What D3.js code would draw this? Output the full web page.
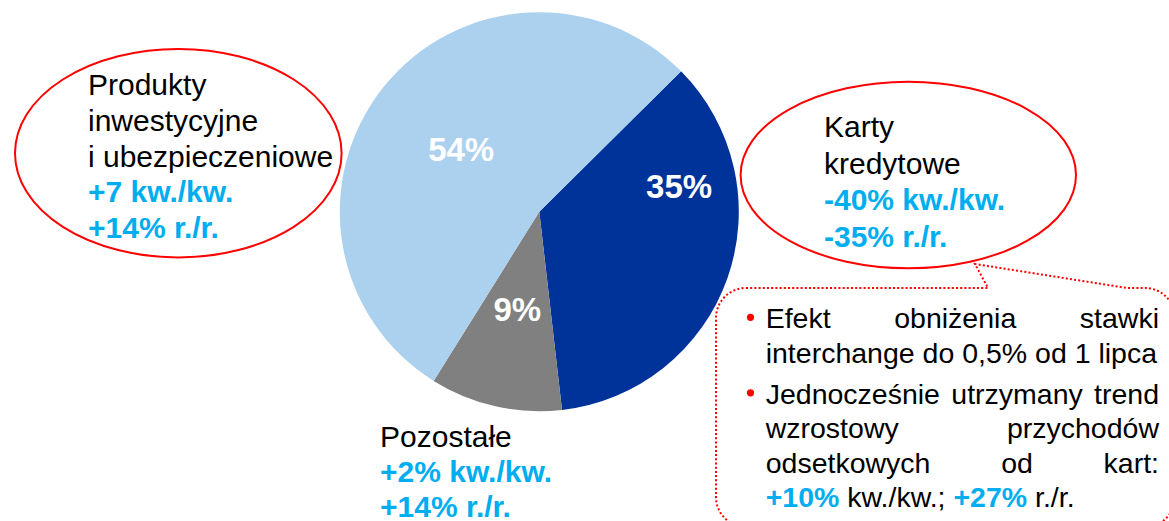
<!DOCTYPE html>
<html>
<head>
<meta charset="utf-8">
<script src="https://cdn.jsdelivr.net/npm/d3@7"></script>
<style>
  html, body { margin: 0; padding: 0; background: #ffffff; }
  svg { display: block; font-family: "Liberation Sans", Arial, sans-serif; }
</style>
</head>
<body>
<svg id="chart" width="1169" height="521"></svg>
<script>
// ---------------- data ----------------
const sliceNames  = ["Karty kredytowe", "Pozostałe", "Produkty inwestycyjne i ubezpieczeniowe"];
const sliceShares = [35.6, 10.7, 53.7];
const sliceLabels = ["35%", "9%", "54%"];

const invNameLines   = ["Produkty", "inwestycyjne", "i ubezpieczeniowe"];
const invChangeLines = ["+7 kw./kw.", "+14% r./r."];

const cardNameLines   = ["Karty", "kredytowe"];
const cardChangeLines = ["-40% kw./kw.", "-35% r./r."];

const otherNameLines   = ["Pozostałe"];
const otherChangeLines = ["+2% kw./kw.", "+14% r./r."];

const bullet1Lines = [
  [{t: "Efekt obniżenia stawki"}],
  [{t: "interchange do 0,5% od 1 lipca"}]
];
const bullet2Lines = [
  [{t: "Jednocześnie utrzymany trend"}],
  [{t: "wzrostowy przychodów"}],
  [{t: "odsetkowych od kart:"}],
  [{t: "+10%", b: true}, {t: " kw./kw.; "}, {t: "+27%", b: true}, {t: " r./r."}]
];

// ---------------- styles ----------------
const sliceColors = ["#003399", "#808080", "#abd1ef"];
const BLUE = "#00aeef";
const RED = "#ff0000";

const svg = d3.select("#chart");

// ---------------- pie ----------------
const cx = 539.3, cy = 211.7, R = 199.5;
const start = 45.3 * Math.PI / 180;
const pie = d3.pie().sort(null).value(d => d)
  .startAngle(start).endAngle(start + 2 * Math.PI);
const arcs = pie(sliceShares);
const arc = d3.arc().innerRadius(0).outerRadius(R);
const labelArc = d3.arc().innerRadius(100).outerRadius(100);

const g = svg.append("g").attr("transform", `translate(${cx},${cy})`);
g.selectAll("path.slice").data(arcs).join("path")
  .attr("class", "slice")
  .attr("d", arc)
  .attr("fill", (d, i) => sliceColors[i]);

const pctSize = 33;
g.selectAll("text.pct").data(arcs).join("text")
  .attr("class", "pct")
  .attr("text-anchor", "middle")
  .attr("font-weight", "bold")
  .attr("font-size", pctSize)
  .attr("fill", "#ffffff")
  .attr("transform", (d, i) => {
    let p;
    if (i === 0) {
      const a = 79.8 * Math.PI / 180, rr = 142;
      p = [rr * Math.sin(a), -rr * Math.cos(a)];
    } else {
      p = labelArc.centroid(d);
    }
    return `translate(${p[0]},${p[1] + pctSize * 0.358})`;
  })
  .text((d, i) => sliceLabels[i]);

// ---------------- ellipses ----------------
svg.append("ellipse").attr("cx", 178.3).attr("cy", 153.2).attr("rx", 163.3).attr("ry", 104.2)
  .attr("fill", "none").attr("stroke", RED).attr("stroke-width", 2);
svg.append("ellipse").attr("cx", 908.3).attr("cy", 175).attr("rx", 167.7).attr("ry", 93.3)
  .attr("fill", "none").attr("stroke", RED).attr("stroke-width", 2);

function block(x, y0, step, nameLines, changeLines, size) {
  const t = svg.append("g").attr("font-size", size);
  nameLines.forEach((s, i) => {
    t.append("text").attr("x", x).attr("y", y0 + i * step).attr("fill", "#000").text(s);
  });
  changeLines.forEach((s, i) => {
    t.append("text").attr("x", x).attr("y", y0 + (nameLines.length + i) * step)
      .attr("fill", BLUE).attr("font-weight", "bold").text(s);
  });
}
block(88, 95, 35.8, invNameLines, invChangeLines, 30);
block(824, 137.3, 36.4, cardNameLines, cardChangeLines, 30);
block(380, 446.5, 35.2, otherNameLines, otherChangeLines, 30);

// ---------------- callout box ----------------
const callout = d3.path();
callout.moveTo(746, 288);
callout.lineTo(988, 288);
callout.lineTo(975, 264);
callout.lineTo(1127, 288);
callout.lineTo(1145, 288);
callout.arcTo(1175, 288, 1175, 318, 30);
callout.lineTo(1175, 497);
callout.arcTo(1175, 527, 1145, 527, 30);
callout.lineTo(746, 527);
callout.arcTo(716, 527, 716, 497, 30);
callout.lineTo(716, 318);
callout.arcTo(716, 288, 746, 288, 30);
callout.closePath();
svg.append("path").attr("d", callout.toString())
  .attr("fill", "none").attr("stroke", RED).attr("stroke-width", 2)
  .attr("stroke-dasharray", "2,2.2");

// ---------------- bullets ----------------
const bx0 = 765.7, bx1 = 1159, bSize = 28.5;
const bulletG = svg.append("g").attr("font-size", bSize);

function measure(str, bold) {
  const t = bulletG.append("text").attr("font-weight", bold ? "bold" : null).text(str);
  const w = t.node().getComputedTextLength();
  t.remove();
  return w;
}

function drawLine(segs, y, justify) {
  if (justify) {
    const words = segs.map(s => s.t).join("").split(" ");
    const widths = words.map(w => measure(w, false));
    const total = d3.sum(widths);
    const gap = (bx1 - bx0 - total) / (words.length - 1);
    let x = bx0;
    words.forEach((w, i) => {
      bulletG.append("text").attr("x", x).attr("y", y).attr("fill", "#000").text(w);
      x += widths[i] + gap;
    });
  } else {
    const t = bulletG.append("text").attr("x", bx0).attr("y", y).attr("xml:space", "preserve");
    segs.forEach(s => {
      t.append("tspan")
        .attr("fill", s.b ? BLUE : "#000")
        .attr("font-weight", s.b ? "bold" : null)
        .text(s.t);
    });
  }
}

const lineStep = 34.4;
const b1y = 328.3;
bullet1Lines.forEach((l, i) => drawLine(l, b1y + i * lineStep, i < bullet1Lines.length - 1));
const b2y = 403.8;
bullet2Lines.forEach((l, i) => drawLine(l, b2y + i * lineStep, i < bullet2Lines.length - 1));

[b1y, b2y].forEach(y => {
  svg.append("circle").attr("cx", 750.5).attr("cy", y - 11).attr("r", 3.6).attr("fill", RED);
});
</script>
</body>
</html>
